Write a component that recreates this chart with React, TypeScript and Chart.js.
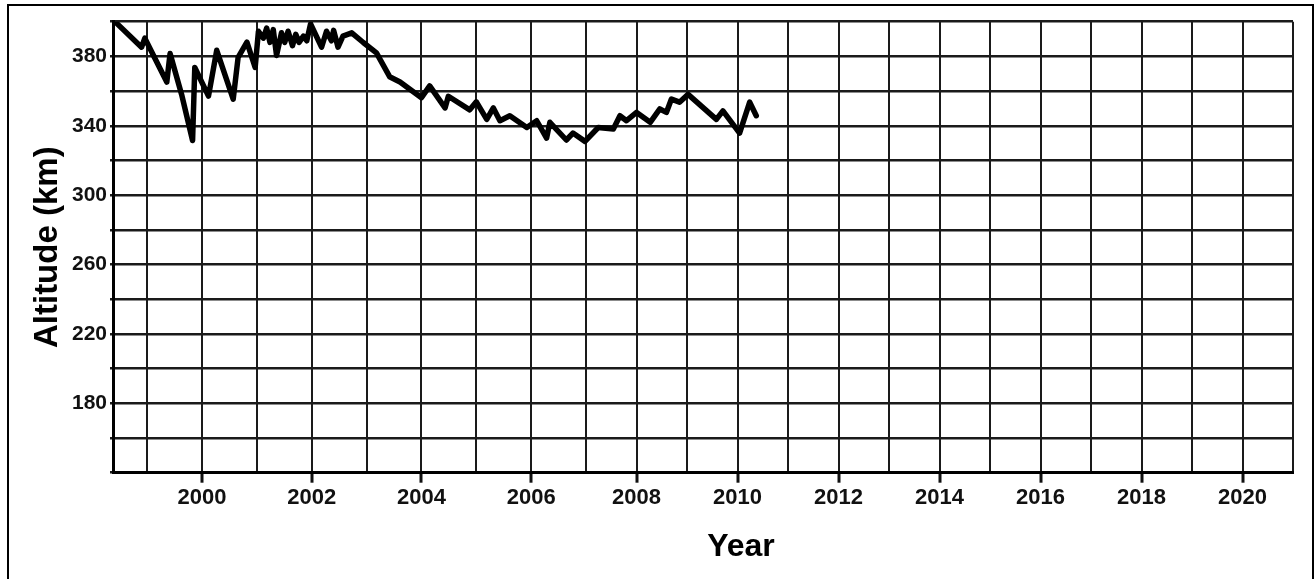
import React, { useEffect, useRef } from "react";
import { Chart, registerables, LinearScale } from "chart.js";

// ---- data ----
const years: number[] = [
  1998.4, 1998.9, 1998.96, 1999.36, 1999.42, 1999.63, 1999.83, 1999.87,
  2000.12, 2000.27, 2000.57, 2000.66, 2000.82, 2000.97, 2001.03, 2001.12,
  2001.18, 2001.24, 2001.3, 2001.36, 2001.45, 2001.51, 2001.57, 2001.65,
  2001.71, 2001.77, 2001.85, 2001.91, 2001.98, 2002.18, 2002.27, 2002.36,
  2002.4, 2002.48, 2002.57, 2002.73, 2002.94, 2003.18, 2003.42, 2003.61,
  2004.0, 2004.15, 2004.43, 2004.49, 2004.88, 2005.0, 2005.19, 2005.31,
  2005.43, 2005.61, 2005.92, 2006.1, 2006.28, 2006.34, 2006.64, 2006.76,
  2006.98, 2007.24, 2007.54, 2007.67, 2007.8, 2008.0, 2008.27, 2008.46,
  2008.59, 2008.69, 2008.85, 2009.02, 2009.58, 2009.71, 2010.04, 2010.24,
  2010.37,
];
const altitudes: number[] = [
  400.5, 385.3, 390.5, 365.2, 381.7, 358.1, 331.5, 373.6,
  357.1, 383.5, 355.3, 379.5, 388.2, 373.6, 394.5, 390.5,
  396.3, 388.1, 395.4, 380.5, 393.6, 388.1, 394.5, 386.2,
  392.7, 388.1, 391.7, 389.0, 398.7, 385.3, 394.5, 389.0,
  395.0, 385.3, 391.7, 393.6, 388.0, 382.0, 368.3, 365.2,
  356.2, 363.0, 350.3, 357.0, 349.2, 353.8, 343.7, 350.3,
  342.9, 345.8, 339.0, 342.9, 332.9, 342.0, 331.8, 335.8,
  331.0, 339.0, 338.1, 345.8, 342.9, 347.7, 342.0, 349.7,
  347.7, 355.4, 353.6, 358.1, 343.7, 348.6, 335.8, 353.6,
  345.8,
];
const xTickLabels: number[] = [2000, 2002, 2004, 2006, 2008, 2010, 2012, 2014, 2016, 2018, 2020];
const yTickLabels: number[] = [380, 340, 300, 260, 220, 180];
const X_MIN = 1998.38;
const X_MAX = 2021;
const Y_MIN = 140;
const Y_MAX = 400;
const X_TITLE = "Year";
const Y_TITLE = "Altitude (km)";

// The source picture's year axis is slightly denser after 2007.
const X_BREAK = 2007;
const X_RATIO_AFTER = 0.92;
const warp = (v: number) => (v <= X_BREAK ? v : X_BREAK + (v - X_BREAK) * X_RATIO_AFTER);
const unwarp = (w: number) => (w <= X_BREAK ? w : X_BREAK + (w - X_BREAK) / X_RATIO_AFTER);

class PiecewiseLinearScale extends LinearScale {
  static id = "piecewiseLinear";
  static defaults = LinearScale.defaults;
  getPixelForValue(value: any) {
    if (value === null || value === undefined || isNaN(value)) return NaN;
    const a = warp(this.min);
    const b = warp(this.max);
    return this.getPixelForDecimal((warp(value) - a) / (b - a));
  }
  getValueForPixel(pixel: number) {
    const a = warp(this.min);
    const b = warp(this.max);
    return unwarp(a + this.getDecimalForPixel(pixel) * (b - a));
  }
}

Chart.register(...registerables, PiecewiseLinearScale as any);

const FONT = '"Liberation Sans", Arial, Helvetica, sans-serif';

const yearTitlePlugin = {
  id: "yearTitle",
  afterDraw(chart: any) {
    const { ctx, chartArea } = chart;
    ctx.save();
    ctx.font = `bold 32px ${FONT}`;
    ctx.fillStyle = "#000";
    ctx.textAlign = "center";
    ctx.textBaseline = "middle";
    ctx.fillText(X_TITLE, (chartArea.left + chartArea.right) / 2 + 38, chartArea.bottom + 74);
    ctx.restore();
  },
};

export default function App() {
  const ref = useRef<HTMLCanvasElement>(null);

  useEffect(() => {
    if (!ref.current) return;
    const points = years.map((x, i) => ({ x, y: altitudes[i] }));
    const chart = new Chart(ref.current, {
      type: "line",
      data: {
        datasets: [
          {
            data: points,
            borderColor: "#000",
            borderWidth: 5.5,
            pointRadius: 0,
            tension: 0,
            borderJoinStyle: "round",
            borderCapStyle: "round",
          },
        ],
      },
      options: {
        animation: false,
        responsive: false,
        layout: { padding: { top: 15.7, right: 19, left: 0, bottom: 0 } },
        plugins: { legend: { display: false }, tooltip: { enabled: false } },
        scales: {
          x: {
            type: "piecewiseLinear" as any,
            min: X_MIN,
            max: X_MAX,
            afterFit: (s: any) => {
              s.height = 106.3;
            },
            ticks: {
              stepSize: 1,
              includeBounds: false,
              autoSkip: false,
              maxRotation: 0,
              padding: 2,
              color: "#111",
              font: { family: FONT, size: 22, weight: "bold" },
              callback: (v: any) => (xTickLabels.includes(Number(v)) ? String(v) : ""),
            },
            grid: {
              color: "#1a1a1a",
              lineWidth: 2,
              tickLength: 10,
              tickWidth: 3,
              tickColor: (c: any) =>
                c.tick && xTickLabels.includes(c.tick.value) ? "#111" : "rgba(0,0,0,0)",
            },
            border: { color: "#000", width: 3 },
          } as any,
          y: {
            type: "linear",
            min: Y_MIN,
            max: Y_MAX,
            afterFit: (s: any) => {
              s.width = 104;
            },
            ticks: {
              stepSize: 20,
              includeBounds: false,
              padding: 3,
              color: "#111",
              font: { family: FONT, size: 21, weight: "bold" },
              callback: (v: any) => (yTickLabels.includes(Number(v)) ? String(v) : ""),
            },
            grid: { color: "#1a1a1a", lineWidth: 2.5, tickLength: 3 },
            border: { color: "#000", width: 3 },
            title: {
              display: true,
              text: Y_TITLE,
              color: "#000",
              font: { family: FONT, size: 33, weight: "bold" },
              padding: { top: 19, bottom: 0 },
            },
          },
        },
      },
      plugins: [yearTitlePlugin],
    });
    return () => chart.destroy();
  }, []);

  return (
    <div
      style={{
        position: "fixed",
        left: 7,
        top: 4,
        width: 1307,
        height: 575,
        boxSizing: "border-box",
        borderTop: "2px solid #000",
        borderLeft: "2px solid #000",
        borderRight: "2px solid #000",
        background: "#fff",
        overflow: "hidden",
      }}
    >
      <canvas ref={ref} width={1303} height={573} style={{ display: "block" }} />
    </div>
  );
}
